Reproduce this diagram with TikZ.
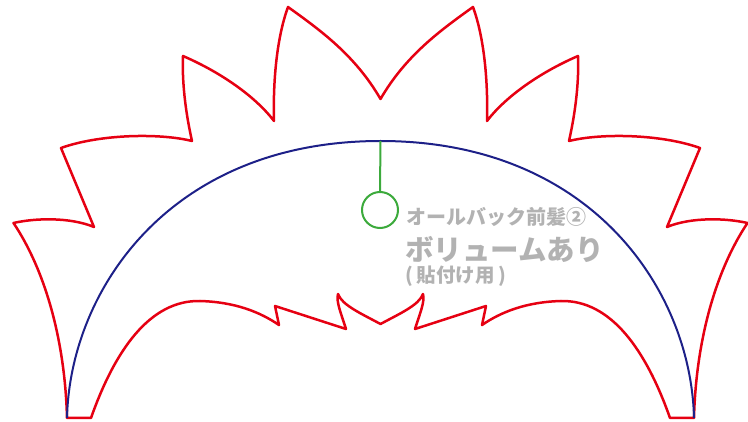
\documentclass[tikz,border=0pt]{standalone}
\usepackage{fontspec}
\newfontfamily\jp{Noto Sans CJK JP}
\definecolor{hairred}{RGB}{230,0,18}
\definecolor{guideblue}{RGB}{29,32,136}
\definecolor{markgreen}{RGB}{60,170,60}
\definecolor{labelgray}{RGB}{178,178,178}
\tikzset{
  hairline/.style={draw=hairred, line width=2.5pt, line join=round, line cap=round},
  guideline/.style={draw=guideblue, line width=2pt},
  markline/.style={draw=markgreen, line width=2pt},
  lbl/.style={text=labelgray, anchor=west, inner sep=0pt, font=\jp\bfseries}
}
\begin{document}
\begin{tikzpicture}[x=1pt,y=-1pt]
\useasboundingbox (0,0) rectangle (748,422);
% hair outline
\path[hairline] (67,418) .. controls (65,340) and (45,270) .. (13.5,223)
  .. controls (35,218) and (70,217) .. (94,227)
  -- (61,148)
  .. controls (100,134) and (160,133) .. (192,141)
  .. controls (185,110) and (182,80) .. (183,56)
  .. controls (220,72) and (255,96) .. (274,121)
  .. controls (273,85) and (276,40) .. (288,7)
  .. controls (320,30) and (355,55) .. (380.5,99)
  .. controls (406,55) and (441,30) .. (473,7)
  .. controls (485,40) and (488,85) .. (487,121)
  .. controls (506,96) and (541,72) .. (578,56)
  .. controls (579,80) and (576,110) .. (569,141)
  .. controls (601,133) and (661,134) .. (700,148)
  -- (667,227)
  .. controls (691,217) and (726,218) .. (747.5,223)
  .. controls (716,270) and (696,340) .. (694,418)
  -- (670,418)
  .. controls (646,350) and (611,300) .. (561,301)
  .. controls (526,302) and (501,312) .. (482,325)
  -- (486,306) -- (415,329)
  .. controls (420,313) and (425,302) .. (423,294)
  .. controls (419,305) and (401,313) .. (380.5,324)
  .. controls (360,313) and (342,305) .. (338,294)
  .. controls (336,302) and (341,313) .. (346,329)
  -- (275,306) -- (279,325)
  .. controls (260,312) and (235,302) .. (200,301)
  .. controls (150,300) and (115,350) .. (91,418)
  -- cycle;
% guide arc
\coordinate (arcL) at (67,418);
\coordinate (arcTop) at (380.5,141);
\coordinate (arcR) at (694,418);
\draw[guideline] (arcL) .. controls (70,290) and (170,141) .. (arcTop)
  .. controls (591,141) and (691,290) .. (arcR);
% marker
\node[circle, markline, minimum size=36pt, inner sep=0pt] (mark) at (380,210) {};
\draw[markline] (arcTop) -- (mark.north);
% labels
\node[lbl, font=\jp\bfseries\fontsize{20}{20}\selectfont] (t1) at (406,217) {オールバック前髪②};
\node[lbl, font=\jp\bfseries\fontsize{28.5}{28.5}\selectfont] (t2) at (405,249) {ボリュームあり};
\node[lbl, font=\jp\bfseries\fontsize{19.5}{19.5}\selectfont] (t3) at (405,276) {(\hspace{4pt}貼付け用\hspace{4pt})};
\end{tikzpicture}
\end{document}
